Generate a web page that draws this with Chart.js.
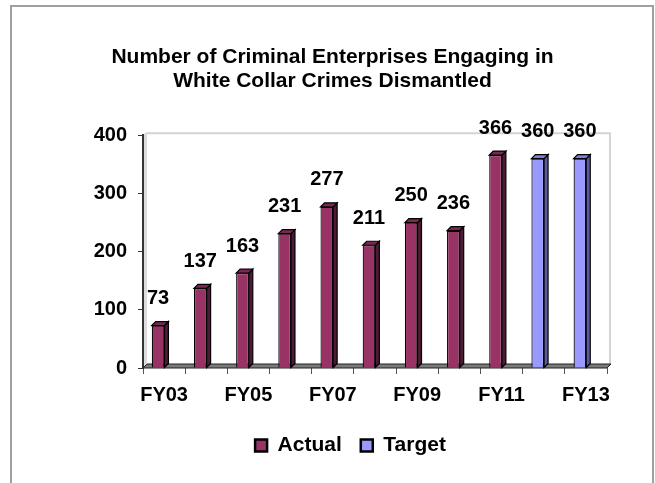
<!DOCTYPE html>
<html>
<head>
<meta charset="utf-8">
<script src="https://cdn.jsdelivr.net/npm/chart.js@4.4.1/dist/chart.umd.min.js"></script>
<style>
  html, body { margin: 0; padding: 0; background: #ffffff; }
  canvas { display: block; }
</style>
</head>
<body>
<canvas id="chart" width="655" height="483"></canvas>
<script>
// chart data
const years = ["FY03", "FY04", "FY05", "FY06", "FY07", "FY08", "FY09", "FY10", "FY11", "FY12", "FY13"];
const actual = [73, 137, 163, 231, 277, 211, 250, 236, 366, null, null];
const target = [null, null, null, null, null, null, null, null, null, 360, 360];
const yTicks = [0, 100, 200, 300, 400];

const FONT = '"Liberation Sans", Arial, sans-serif';
const DEPTH = 4;    // fake 3d depth of bars / floor
const SHIFT = -6;   // bars sit a bit left of the category centre

// grey frame round the picture
const framePlugin = {
  id: "frame",
  beforeDraw(chart) {
    const ctx = chart.ctx;
    ctx.save();
    ctx.strokeStyle = "#a0a0a0";
    ctx.lineWidth = 2;
    ctx.beginPath();
    ctx.moveTo(11, 483);
    ctx.lineTo(11, 6);
    ctx.lineTo(653, 6);
    ctx.lineTo(653, 483);
    ctx.stroke();
    ctx.restore();
  },
  // legend sits a little right of the middle in the original
  afterLayout(chart) {
    chart.legend.left += 18;
    chart.legend.right += 18;
  }
};

// back wall lines + floor slab, then 3d faces and value labels on bars
const wallPlugin = {
  id: "wall",
  beforeDatasetsDraw(chart) {
    const ctx = chart.ctx;
    const a = chart.chartArea;
    ctx.save();
    // back wall edge
    ctx.strokeStyle = "#d4d4d4";
    ctx.lineWidth = 2;
    ctx.beginPath();
    ctx.moveTo(a.left + 3, a.top - 2);
    ctx.lineTo(a.right + 3, a.top - 2);
    ctx.lineTo(a.right + 3, a.bottom - 3);
    ctx.stroke();
    // side wall shade next to the axis
    ctx.fillStyle = "#dcdcdc";
    ctx.fillRect(a.left + 1, a.top - 2, 3, a.bottom - a.top);
    // floor
    ctx.fillStyle = "#7a7a7a";
    ctx.strokeStyle = "#222222";
    ctx.lineWidth = 1;
    ctx.beginPath();
    ctx.moveTo(a.left, a.bottom);
    ctx.lineTo(a.left + DEPTH, a.bottom - DEPTH);
    ctx.lineTo(a.right + DEPTH, a.bottom - DEPTH);
    ctx.lineTo(a.right, a.bottom);
    ctx.closePath();
    ctx.fill();
    ctx.stroke();
    ctx.restore();
    // bars drawn shifted
    ctx.save();
    ctx.translate(SHIFT, 0);
  },
  afterDatasetsDraw(chart) {
    const ctx = chart.ctx;
    const sides = ["#4f1a35", "#5a5a9e"];
    const tops = ["#7a2851", "#7f7fd6"];
    chart.data.datasets.forEach((ds, di) => {
      const meta = chart.getDatasetMeta(di);
      meta.data.forEach((bar, i) => {
        if (ds.data[i] == null) return;
        const l = bar.x - bar.width / 2, r = bar.x + bar.width / 2;
        const t = bar.y, b = bar.base;
        ctx.lineWidth = 1.2;
        ctx.strokeStyle = "#000000";
        // side face
        ctx.fillStyle = sides[di];
        ctx.beginPath();
        ctx.moveTo(r, t);
        ctx.lineTo(r + DEPTH, t - DEPTH);
        ctx.lineTo(r + DEPTH, b - DEPTH);
        ctx.lineTo(r, b);
        ctx.closePath();
        ctx.fill();
        ctx.stroke();
        // top face
        ctx.fillStyle = tops[di];
        ctx.beginPath();
        ctx.moveTo(l, t);
        ctx.lineTo(l + DEPTH, t - DEPTH);
        ctx.lineTo(r + DEPTH, t - DEPTH);
        ctx.lineTo(r, t);
        ctx.closePath();
        ctx.fill();
        ctx.stroke();
        // value label
        ctx.fillStyle = "#000000";
        ctx.font = "bold 20px " + FONT;
        ctx.textAlign = "center";
        ctx.textBaseline = "middle";
        ctx.fillText(String(ds.data[i]), bar.x, t - 27);
      });
    });
    ctx.restore();
  }
};

new Chart(document.getElementById("chart"), {
  type: "bar",
  plugins: [framePlugin, wallPlugin],
  data: {
    labels: years,
    datasets: [
      {
        label: "Actual",
        data: actual,
        backgroundColor: "#993366",
        borderColor: "#000000",
        borderWidth: 1.2,
        grouped: false,
        barPercentage: 0.3,
        categoryPercentage: 1
      },
      {
        label: "Target",
        data: target,
        backgroundColor: "#9999ff",
        borderColor: "#000000",
        borderWidth: 1.2,
        grouped: false,
        barPercentage: 0.3,
        categoryPercentage: 1
      }
    ]
  },
  options: {
    responsive: false,
    animation: false,
    devicePixelRatio: 1,
    layout: { padding: { left: 10, right: 0, top: 0, bottom: 17 } },
    plugins: {
      tooltip: { enabled: false },
      title: {
        display: true,
        text: ["Number of Criminal Enterprises Engaging in", "White Collar Crimes Dismantled"],
        color: "#000000",
        font: { family: FONT, size: 21, weight: "bold", lineHeight: 1.15 },
        padding: { top: 45, bottom: 42 }
      },
      legend: {
        position: "bottom",
        labels: {
          color: "#000000",
          font: { family: FONT, size: 21, weight: "bold" },
          boxWidth: 12,
          boxHeight: 12,
          padding: 19,
          generateLabels: (chart) => {
            const items = Chart.defaults.plugins.legend.labels.generateLabels(chart);
            items.forEach(it => { it.lineWidth = 2.5; });
            return items;
          }
        }
      }
    },
    scales: {
      x: {
        grid: { display: true, drawOnChartArea: false, offset: true, tickLength: 6, color: "#555555" },
        border: { display: false },
        ticks: {
          autoSkip: false,
          maxRotation: 0,
          padding: 9,
          color: "#000000",
          font: { family: FONT, size: 20, weight: "bold" },
          callback: function(v, i) { return i % 2 === 0 ? this.getLabelForValue(v) : ""; }
        }
      },
      y: {
        min: 0,
        max: 400,
        afterBuildTicks: (scale) => { scale.ticks = yTicks.map(v => ({ value: v })); },
        afterFit: (scale) => { scale.width = 133; },
        grid: { display: true, drawOnChartArea: false, tickLength: 5, color: "#333333" },
        border: { display: true, color: "#333333", width: 2 },
        ticks: {
          padding: 11,
          color: "#000000",
          font: { family: FONT, size: 20, weight: "bold" }
        }
      },
      // empty right-hand axis only keeps the plot clear of the frame
      side: {
        position: "right",
        grid: { display: false },
        border: { display: false },
        ticks: { display: false },
        afterFit: (scale) => { scale.width = 48; }
      }
    }
  }
});
</script>
</body>
</html>
